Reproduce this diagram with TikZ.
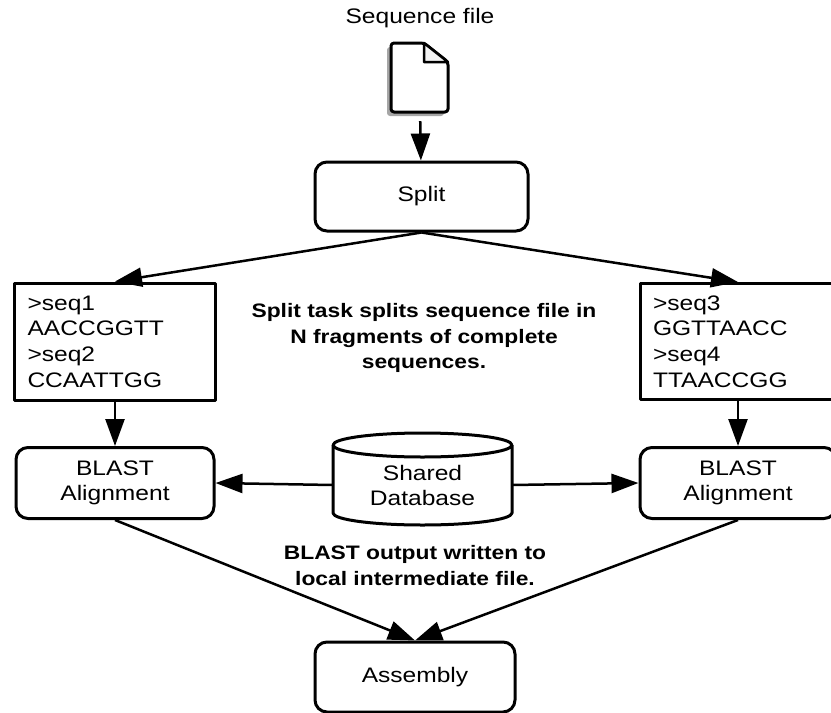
\documentclass[tikz,border=0pt]{standalone}
\usepackage{fontspec}
\setmainfont{Liberation Sans}[FakeStretch=1.17]
\usetikzlibrary{arrows.meta,positioning}

\begin{document}
\begin{tikzpicture}[x=1pt,y=-1pt,line join=round]
\tikzstyle{box}=[draw=black,line width=3pt,rounded corners=12pt,align=center,inner sep=0pt,font=\fontsize{21}{25}\selectfont]
\tikzstyle{seqbox}=[draw=black,line width=3pt,align=left,inner sep=0pt,font=\fontsize{21}{25.7}\selectfont]
\tikzstyle{note}=[align=center,font=\bfseries\fontsize{19.5}{25.5}\selectfont]
\tikzstyle{flow}=[-{Triangle[length=27pt,width=19pt]},line width=2.5pt]

\useasboundingbox (0,0) rectangle (831,713);

% sequence file icon
\node (title) at (420,18) [font=\fontsize{21}{25}\selectfont] {Sequence file};
\fill[gray!70,rounded corners=3pt,shift={(-4,4)}] (391,43) -- (424,43) -- (448,62) -- (448,112) -- (391,112) -- cycle;
\draw[line width=3pt,fill=white,rounded corners=3pt] (391,43) -- (424,43) -- (448,62) -- (448,112) -- (391,112) -- cycle;
\draw[line width=2.5pt,fill=gray!10] (424,43) -- (424,62) -- (448,62) -- cycle;
\node (file) at (419.5,77.5) [minimum width=57pt,minimum height=69pt,inner sep=0pt] {};

\node [box] (split) at (421.5,196.5) [minimum width=213pt,minimum height=69pt] {Split};

\node [seqbox] (seqL) at (115,341.5) [minimum width=201pt,minimum height=117pt,text width=175pt] {>seq1\\AACCGGTT\\>seq2\\CCAATTGG};
\node [seqbox] (seqR) at (738,341.5) [minimum width=196pt,minimum height=116pt,text width=170pt] {>seq3\\GGTTAACC\\>seq4\\TTAACCGG};

\node [note] (splitnote) at (424,338) {Split task splits sequence file in\\N fragments of complete\\sequences.};

\node [box] (blastL) at (115,483) [minimum width=198pt,minimum height=71pt] {BLAST\\Alignment};
\node [box] (blastR) at (738,483) [minimum width=196pt,minimum height=71pt] {BLAST\\Alignment};

% shared database
\draw[line width=3pt,fill=white] (333,445) -- (333,513) arc[start angle=180,end angle=0,x radius=89.5,y radius=12] -- (512,445);
\draw[line width=3pt] (422.5,445) ellipse[x radius=89.5,y radius=12];
\node (db) at (422.5,483) [minimum width=179pt,minimum height=60pt,inner sep=0pt,align=center,font=\fontsize{21}{25}\selectfont,yshift=-2pt] {Shared\\Database};

\node [note] (blastnote) at (415,565.5) {BLAST output written to\\local intermediate file.};

\node [box] (asm) at (415,677) [minimum width=200pt,minimum height=70pt] {Assembly};

\path[flow] (file) edge[shorten <=9pt] (split);
\path[flow] (split.south) edge (seqL.north);
\path[flow] (split.south) edge (seqR.north);
\path[flow] (seqL) edge (blastL);
\path[flow] (seqR) edge (blastR);
\path[flow] (db.west) edge (blastL.east);
\path[flow] (db.east) edge (blastR.west);
\path[flow] (blastL.south) edge (asm.north);
\path[flow] (blastR.south) edge (asm.north);
\end{tikzpicture}
\end{document}
